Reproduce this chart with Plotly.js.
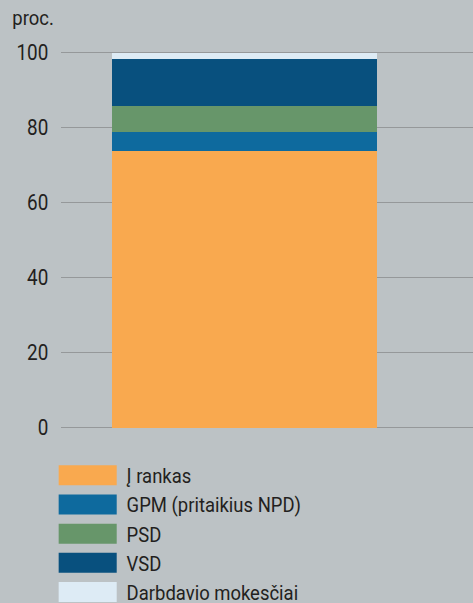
<!DOCTYPE html>
<html>
<head>
<meta charset="utf-8">
<script src="https://cdn.plot.ly/plotly-3.0.1.min.js"></script>
<style>
html,body{margin:0;padding:0;background:#bcc2c5;overflow:hidden;}
#wrap{width:473px;height:603px;overflow:hidden;}
#chart{width:538px;height:603px;transform:scaleX(0.87918);transform-origin:0 0;}
</style>
</head>
<body>
<div id="wrap"><div id="chart"></div></div>
<script>
const category = ["Darbo užmokestis"];
const seriesNames = ["Į rankas", "GPM (pritaikius NPD)", "PSD", "VSD", "Darbdavio mokesčiai"];
const seriesValues = [[73.7], [5.1], [6.9], [12.6], [1.7]];
const seriesColors = ["#f9a94f", "#0e6a9e", "#67966a", "#08507e", "#ddebf5"];
const yTickVals = [0, 20, 40, 60, 80, 100];
const yTickText = ["0", "20", "40", "60", "80", "100"];

// horizontal condensing factor (reference uses a condensed face)
const S = 473 / 538;
const W = 538, H = 603;
const mL = 61 / S, mR = 0, mT = 30, mB = 168.2;
const plotH = H - mT - mB;
const pyToPaper = py => (H - mB - py) / plotH;
const pxToPaper = px => (px - 61) / 412;   // px measured in final (condensed) picture

const traces = seriesNames.map((name, i) => ({
  type: 'bar',
  name: name,
  x: category,
  y: seriesValues[i],
  width: 1,
  marker: {color: seriesColors[i], line: {width: 0}},
  hoverinfo: 'name+y',
  showlegend: false
}));

const txtFont = {family: 'Roboto', size: 21, color: '#231f20'};
const shapes = [];
const annotations = [{
  text: 'proc.', xref: 'paper', yref: 'paper',
  x: pxToPaper(11), y: pyToPaper(18.5), xanchor: 'left', yanchor: 'middle',
  showarrow: false, font: txtFont
}];
seriesNames.forEach((name, i) => {
  const cy = 475 + 29.2 * i;
  shapes.push({
    type: 'rect', xref: 'paper', yref: 'paper',
    x0: pxToPaper(59), x1: pxToPaper(117),
    y0: pyToPaper(cy - 10), y1: pyToPaper(cy + 10),
    fillcolor: seriesColors[i], line: {width: 0}
  });
  annotations.push({
    text: name, xref: 'paper', yref: 'paper',
    x: pxToPaper(125.5), y: pyToPaper(cy + 1), xanchor: 'left', yanchor: 'middle',
    showarrow: false, font: txtFont
  });
});

const layout = {
  width: W, height: H,
  margin: {l: mL, r: mR, t: mT, b: mB, pad: 0},
  paper_bgcolor: '#bcc2c5', plot_bgcolor: '#bcc2c5',
  barmode: 'stack',
  bargap: 0,
  showlegend: false,
  font: txtFont,
  xaxis: {
    type: 'category', range: [-0.6925, 0.8623],
    showticklabels: false, showgrid: false, zeroline: false, showline: false, ticks: ''
  },
  yaxis: {
    range: [-2, 106], tickvals: yTickVals, ticktext: yTickText,
    showgrid: true, gridcolor: '#95989a', gridwidth: 1.5,
    zeroline: false, showline: false, ticks: '',
    ticklabelstandoff: 13,
    tickfont: {family: 'Roboto', size: 21.5, color: '#231f20'}
  },
  shapes: shapes,
  annotations: annotations
};

Plotly.newPlot('chart', traces, layout, {displayModeBar: false, staticPlot: true});
</script>
</body>
</html>
